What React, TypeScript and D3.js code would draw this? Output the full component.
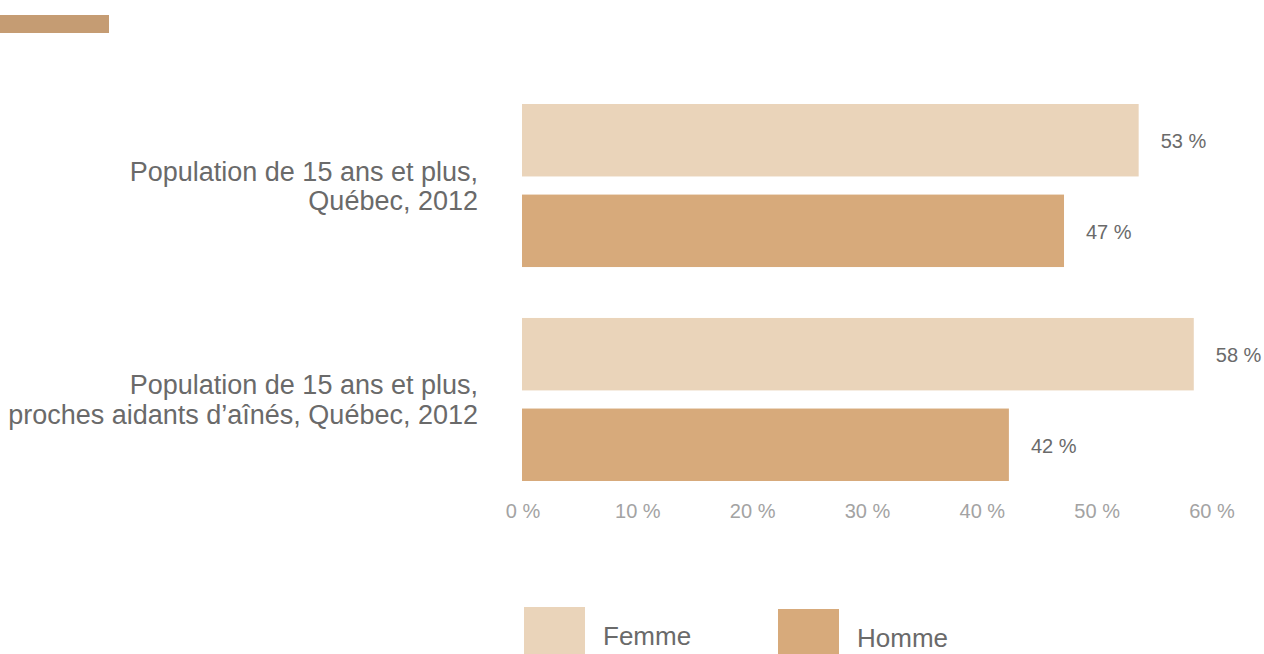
import React from "react";
import * as d3 from "d3";

const categories: string[][] = [
  ["Population de 15 ans et plus,", "Québec, 2012"],
  ["Population de 15 ans et plus,", "proches aidants d’aînés, Québec, 2012"],
];
const seriesNames = ["Femme", "Homme"];
const femme = [53.7, 58.5];
const homme = [47.2, 42.4];
const valueLabels = [["53 %", "47 %"], ["58 %", "42 %"]];
const tickValues = [0, 10, 20, 30, 40, 50, 60];
const tickLabels = ["0 %", "10 %", "20 %", "30 %", "40 %", "50 %", "60 %"];

const colors = ["#EAD4BA", "#D7AA7B"];
const FONT = "'Liberation Sans', Arial, sans-serif";

export default function App() {
  const W = 1264, H = 654;
  const x = d3.scaleLinear().domain([0, 60]).range([522, 1211]);
  const y = d3.scaleBand<number>().domain([0, 1]).range([104, 481]).paddingInner(0.238).paddingOuter(0);
  const sub = d3.scaleBand<number>().domain([0, 1]).range([0, y.bandwidth()]).paddingInner(0.2).paddingOuter(0);
  const series = [femme, homme];

  return (
    <svg width={W} height={H} style={{ position: "absolute", left: 0, top: 0, background: "#fff" }} fontFamily={FONT}>
      <rect x={0} y={15} width={109} height={18} fill="#C59C73" />
      {categories.map((lines, ci) => {
        const cy = (y(ci) as number) + y.bandwidth() / 2;
        return (
          <g key={ci}>
            <text x={478} y={cy - 5} textAnchor="end" fontSize={27} fill="#6a6a6a">
              {lines[0]}
            </text>
            <text x={478} y={cy + 24.5} textAnchor="end" fontSize={27} fill="#6a6a6a">
              {lines[1]}
            </text>
            {series.map((vals, si) => {
              const by = (y(ci) as number) + (sub(si) as number);
              const v = vals[ci];
              return (
                <g key={si}>
                  <rect x={x(0)} y={by} width={x(v) - x(0)} height={sub.bandwidth()} fill={colors[si]} />
                  <text x={x(v) + 22} y={by + sub.bandwidth() / 2 + 8} fontSize={20} fill="#6a6a6a">
                    {valueLabels[ci][si]}
                  </text>
                </g>
              );
            })}
          </g>
        );
      })}
      {tickValues.map((t, i) => (
        <text key={t} x={x(t) + 1} y={518} textAnchor="middle" fontSize={20} fill="#a3a3a3">
          {tickLabels[i]}
        </text>
      ))}
      {seriesNames.map((n, i) => {
        const lx = i === 0 ? 524 : 778;
        const ly = i === 0 ? 607 : 609;
        return (
          <g key={n}>
            <rect x={lx} y={ly} width={61} height={61} fill={colors[i]} />
            <text x={lx + 79} y={ly + 38} fontSize={26} fill="#6a6a6a">
              {n}
            </text>
          </g>
        );
      })}
    </svg>
  );
}
